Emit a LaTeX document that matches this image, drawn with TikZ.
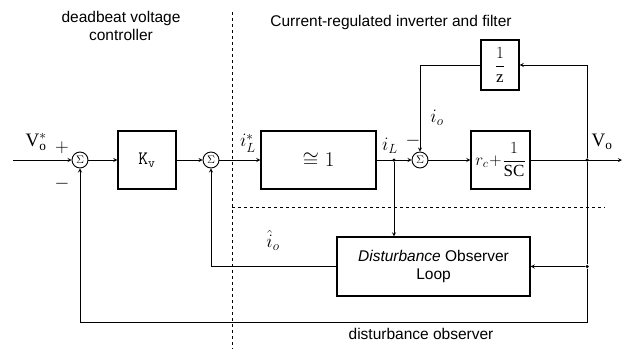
\RequirePackage{fix-cm}
\documentclass[tikz,border=0pt]{standalone}
\usepackage{amsmath, amssymb}
\usepackage{fontspec}
\setmainfont{Liberation Sans}
\setmathrm{Liberation Serif}
\begin{document}
\begin{tikzpicture}[x=1pt,y=-1pt,>=stealth,line width=0.8pt,font=\fontsize{15.5}{18}\selectfont,
    blk/.style={draw,line width=1.3pt,inner sep=0pt,align=center},
    sumc/.style={draw,circle,line width=0.9pt,inner sep=0pt,minimum size=16pt,font=\fontsize{11}{12}\selectfont},
    sig/.style={->,line width=0.8pt},
    zone/.style={dashed,line width=0.8pt},
    jdot/.style={circle,fill,inner sep=0pt,minimum size=3.5pt},
    lbl/.style={inner sep=0pt,font=\fontsize{19}{22}\selectfont}]
  \useasboundingbox (0,0) rectangle (634,349);

  % region borders
  \draw[zone] (232,12) -- (232,349);
  \draw[zone] (232,207) -- (605,207);
  \node[align=center] (tdead) at (121,26) {deadbeat voltage\\controller};
  \node (tcur) at (391,22) {Current-regulated inverter and filter};
  \node (tdob) at (421,334) {disturbance observer};

  % forward path
  \coordinate (in) at (13,160);
  \node[sumc] (S1) at (80,160) {$\Sigma$};
  \node[blk,minimum width=58pt,minimum height=58pt,font=\fontsize{19}{20}\selectfont] (Kv) at (147,160) {$\mathtt{K}_{\mathtt{v}}$};
  \node[sumc] (S2) at (211,160) {$\Sigma$};
  \node[blk,minimum width=115pt,minimum height=58pt,font=\fontsize{21}{24}\selectfont] (G1) at (318.5,160) {$\cong 1$};
  \node[jdot] (jL) at (394,160) {};
  \node[sumc] (S3) at (420,160) {$\Sigma$};
  \node[blk,minimum width=59pt,minimum height=58pt,font=\fontsize{17}{18}\selectfont] (Gc) at (500.5,160) {$r_c\!+\!\dfrac{1}{\mathrm{SC}}$};
  \node[jdot] (jV) at (587,160) {};
  \coordinate (out) at (622,160);

  % feedback blocks
  \node[blk,minimum width=38pt,minimum height=50pt,font=\fontsize{17}{18}\selectfont] (Z) at (500,65) {$\dfrac{1}{\mathrm{z}}$};
  \node[blk,minimum width=193pt,minimum height=59pt] (DOB) at (433.5,266.5) {\textit{Disturbance} Observer\\Loop};
  \node[jdot] (jD) at (587,266.5) {};
  \coordinate (bl) at (587,322);

  \draw[sig] (in) -- (S1);
  \draw[sig] (S1) -- (Kv);
  \draw[sig] (Kv) -- (S2);
  \draw[sig] (S2) -- (G1);
  \draw[sig] (G1) -- (S3);
  \draw[sig] (S3) -- (Gc);
  \draw[sig] (Gc) -- (out);
  \draw[sig] (jV) |- (Z);
  \draw[sig] (Z) -| (S3);
  \draw[sig] (jL) -- (jL |- DOB.north);
  \draw (jV) -- (jD);
  \draw[sig] (jD) -- (DOB);
  \draw[sig] (jD) -- (bl) -| (S1);
  \draw[sig] (DOB) -| (S2);

  % signal labels
  \node[lbl] (lVr) at (36,142) {$\mathrm{V}_{\mathrm{o}}^{*}$};
  \node[lbl] (lp) at (62,148) {$+$};
  \node[lbl] (lm1) at (62,184) {$-$};
  \node[lbl] (lm2) at (413,141) {$-$};
  \node[lbl] (liLr) at (248,143) {$i_L^{*}$};
  \node[lbl] (liL) at (390,146) {$i_L$};
  \node[lbl] (lio) at (437,118) {$i_o$};
  \node[lbl] (lioh) at (273,240) {$\hat{i}_o$};
  \node[lbl] (lVo) at (602,142) {$\mathrm{V}_{\mathrm{o}}$};
\end{tikzpicture}
\end{document}
